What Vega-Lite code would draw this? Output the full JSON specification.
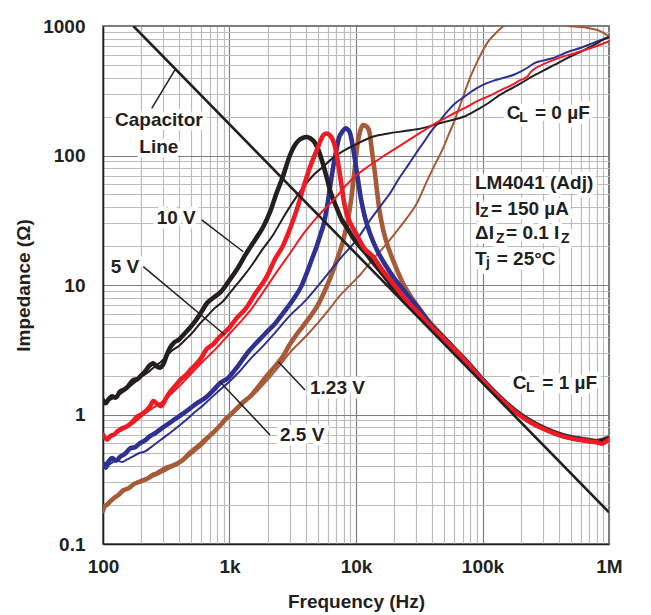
{
  "$schema": "https://vega.github.io/schema/vega-lite/v6.json",
  "autosize": {"type": "none"},
  "padding": {"left": 103, "top": 26, "right": 42, "bottom": 71},
  "width": 506,
  "height": 518,
  "background": "white",
  "config": {
    "view": {"stroke": "#4d4d4d", "strokeWidth": 1.5},
    "font": "Liberation Sans",
    "axis": {
      "labelFont": "Liberation Sans", "labelFontWeight": "bold", "labelFontSize": 19, "labelColor": "#231f20",
      "titleFont": "Liberation Sans", "titleFontWeight": "bold", "titleFontSize": 19, "titleColor": "#231f20",
      "domainColor": "#231f20", "domainWidth": 1.5, "ticks": false, "labelOverlap": false, "labelFlush": false
    }
  },
  "datasets": {
    "curves": [
      {"v":"1.23 V","c":"0","f":100,"z":0.18},{"v":"1.23 V","c":"0","f":105,"z":0.2},{"v":"1.23 V","c":"0","f":112,"z":0.21},{"v":"1.23 V","c":"0","f":120,"z":0.22},{"v":"1.23 V","c":"0","f":130,"z":0.235},{"v":"1.23 V","c":"0","f":145,"z":0.255},{"v":"1.23 V","c":"0","f":160,"z":0.27},{"v":"1.23 V","c":"0","f":180,"z":0.29},{"v":"1.23 V","c":"0","f":200,"z":0.3},{"v":"1.23 V","c":"0","f":230,"z":0.32},{"v":"1.23 V","c":"0","f":265,"z":0.34},{"v":"1.23 V","c":"0","f":300,"z":0.36},{"v":"1.23 V","c":"0","f":350,"z":0.39},{"v":"1.23 V","c":"0","f":432,"z":0.44},{"v":"1.23 V","c":"0","f":520,"z":0.51},{"v":"1.23 V","c":"0","f":620,"z":0.59},{"v":"1.23 V","c":"0","f":750,"z":0.72},{"v":"1.23 V","c":"0","f":912,"z":0.88},{"v":"1.23 V","c":"0","f":1100,"z":1.05},{"v":"1.23 V","c":"0","f":1300,"z":1.22},{"v":"1.23 V","c":"0","f":1660,"z":1.52},{"v":"1.23 V","c":"0","f":2000,"z":1.85},{"v":"1.23 V","c":"0","f":2500,"z":2.4},{"v":"1.23 V","c":"0","f":3000,"z":3.0},{"v":"1.23 V","c":"0","f":4000,"z":4.0},{"v":"1.23 V","c":"0","f":5000,"z":5.1},{"v":"1.23 V","c":"0","f":6000,"z":6.3},{"v":"1.23 V","c":"0","f":7400,"z":8.2},{"v":"1.23 V","c":"0","f":9000,"z":10},{"v":"1.23 V","c":"0","f":10800,"z":12},{"v":"1.23 V","c":"0","f":13500,"z":15.6},{"v":"1.23 V","c":"0","f":16500,"z":19.5},{"v":"1.23 V","c":"0","f":20000,"z":24.5},{"v":"1.23 V","c":"0","f":24600,"z":31.8},{"v":"1.23 V","c":"0","f":30000,"z":42},{"v":"1.23 V","c":"0","f":36000,"z":62},{"v":"1.23 V","c":"0","f":42000,"z":85},{"v":"1.23 V","c":"0","f":48000,"z":110},{"v":"1.23 V","c":"0","f":54000,"z":145},{"v":"1.23 V","c":"0","f":60000,"z":185},{"v":"1.23 V","c":"0","f":68000,"z":260},{"v":"1.23 V","c":"0","f":81000,"z":413},{"v":"1.23 V","c":"0","f":95000,"z":580},{"v":"1.23 V","c":"0","f":110000,"z":750},{"v":"1.23 V","c":"0","f":130000,"z":900},{"v":"1.23 V","c":"0","f":155000,"z":1050},{"v":"1.23 V","c":"0","f":200000,"z":1400},{"v":"1.23 V","c":"0","f":300000,"z":1700},{"v":"1.23 V","c":"0","f":400000,"z":1300},{"v":"1.23 V","c":"0","f":466000,"z":1000},{"v":"1.23 V","c":"0","f":560000,"z":985},{"v":"1.23 V","c":"0","f":668000,"z":970},{"v":"1.23 V","c":"0","f":760000,"z":945},{"v":"1.23 V","c":"0","f":851000,"z":914},{"v":"1.23 V","c":"0","f":930000,"z":870},{"v":"1.23 V","c":"0","f":1000000,"z":830},

      {"v":"1.23 V","c":"1","f":100,"z":0.18},{"v":"1.23 V","c":"1","f":103,"z":0.195},{"v":"1.23 V","c":"1","f":107,"z":0.2},{"v":"1.23 V","c":"1","f":112,"z":0.21},{"v":"1.23 V","c":"1","f":118,"z":0.22},{"v":"1.23 V","c":"1","f":125,"z":0.23},{"v":"1.23 V","c":"1","f":133,"z":0.24},{"v":"1.23 V","c":"1","f":145,"z":0.26},{"v":"1.23 V","c":"1","f":160,"z":0.27},{"v":"1.23 V","c":"1","f":175,"z":0.29},{"v":"1.23 V","c":"1","f":190,"z":0.3},{"v":"1.23 V","c":"1","f":205,"z":0.31},{"v":"1.23 V","c":"1","f":225,"z":0.32},{"v":"1.23 V","c":"1","f":245,"z":0.34},{"v":"1.23 V","c":"1","f":265,"z":0.35},{"v":"1.23 V","c":"1","f":290,"z":0.37},{"v":"1.23 V","c":"1","f":320,"z":0.39},{"v":"1.23 V","c":"1","f":350,"z":0.4},{"v":"1.23 V","c":"1","f":390,"z":0.42},{"v":"1.23 V","c":"1","f":432,"z":0.45},{"v":"1.23 V","c":"1","f":480,"z":0.5},{"v":"1.23 V","c":"1","f":540,"z":0.55},{"v":"1.23 V","c":"1","f":600,"z":0.6},{"v":"1.23 V","c":"1","f":680,"z":0.67},{"v":"1.23 V","c":"1","f":760,"z":0.74},{"v":"1.23 V","c":"1","f":850,"z":0.83},{"v":"1.23 V","c":"1","f":912,"z":0.9},{"v":"1.23 V","c":"1","f":1000,"z":0.98},{"v":"1.23 V","c":"1","f":1150,"z":1.12},{"v":"1.23 V","c":"1","f":1300,"z":1.26},{"v":"1.23 V","c":"1","f":1480,"z":1.4},{"v":"1.23 V","c":"1","f":1660,"z":1.6},{"v":"1.23 V","c":"1","f":1900,"z":1.9},{"v":"1.23 V","c":"1","f":2200,"z":2.25},{"v":"1.23 V","c":"1","f":2450,"z":2.55},{"v":"1.23 V","c":"1","f":2700,"z":2.9},{"v":"1.23 V","c":"1","f":2900,"z":3.3},{"v":"1.23 V","c":"1","f":3300,"z":4.0},{"v":"1.23 V","c":"1","f":3800,"z":4.8},{"v":"1.23 V","c":"1","f":4400,"z":5.8},{"v":"1.23 V","c":"1","f":4950,"z":6.9},{"v":"1.23 V","c":"1","f":5600,"z":8.8},{"v":"1.23 V","c":"1","f":6300,"z":11.5},{"v":"1.23 V","c":"1","f":7060,"z":15.6},{"v":"1.23 V","c":"1","f":7800,"z":21},{"v":"1.23 V","c":"1","f":8400,"z":28},{"v":"1.23 V","c":"1","f":8900,"z":38},{"v":"1.23 V","c":"1","f":9500,"z":61},{"v":"1.23 V","c":"1","f":9900,"z":90},{"v":"1.23 V","c":"1","f":10300,"z":124},{"v":"1.23 V","c":"1","f":10800,"z":155},{"v":"1.23 V","c":"1","f":11300,"z":172},{"v":"1.23 V","c":"1","f":11800,"z":170},{"v":"1.23 V","c":"1","f":12300,"z":165},{"v":"1.23 V","c":"1","f":12800,"z":150},{"v":"1.23 V","c":"1","f":13200,"z":120},{"v":"1.23 V","c":"1","f":13600,"z":95},{"v":"1.23 V","c":"1","f":14000,"z":78},{"v":"1.23 V","c":"1","f":14600,"z":55},{"v":"1.23 V","c":"1","f":15300,"z":38},{"v":"1.23 V","c":"1","f":16500,"z":26},{"v":"1.23 V","c":"1","f":18300,"z":18.6},{"v":"1.23 V","c":"1","f":20500,"z":14},{"v":"1.23 V","c":"1","f":23300,"z":10.5},{"v":"1.23 V","c":"1","f":27000,"z":8.2},{"v":"1.23 V","c":"1","f":31600,"z":6.6},{"v":"1.23 V","c":"1","f":38000,"z":5.2},{"v":"1.23 V","c":"1","f":46000,"z":4.25},{"v":"1.23 V","c":"1","f":60000,"z":3.22},{"v":"1.23 V","c":"1","f":75000,"z":2.57},{"v":"1.23 V","c":"1","f":100000,"z":1.86},{"v":"1.23 V","c":"1","f":130000,"z":1.43},{"v":"1.23 V","c":"1","f":177000,"z":1.09},{"v":"1.23 V","c":"1","f":230000,"z":0.91},{"v":"1.23 V","c":"1","f":290000,"z":0.81},{"v":"1.23 V","c":"1","f":370000,"z":0.73},{"v":"1.23 V","c":"1","f":440000,"z":0.69},{"v":"1.23 V","c":"1","f":520000,"z":0.665},{"v":"1.23 V","c":"1","f":600000,"z":0.65},{"v":"1.23 V","c":"1","f":700000,"z":0.635},{"v":"1.23 V","c":"1","f":800000,"z":0.625},{"v":"1.23 V","c":"1","f":900000,"z":0.64},{"v":"1.23 V","c":"1","f":1000000,"z":0.665},

      {"v":"2.5 V","c":"0","f":100,"z":0.4},{"v":"2.5 V","c":"0","f":106,"z":0.38},{"v":"2.5 V","c":"0","f":112,"z":0.41},{"v":"2.5 V","c":"0","f":120,"z":0.43},{"v":"2.5 V","c":"0","f":130,"z":0.44},{"v":"2.5 V","c":"0","f":142,"z":0.43},{"v":"2.5 V","c":"0","f":155,"z":0.45},{"v":"2.5 V","c":"0","f":170,"z":0.47},{"v":"2.5 V","c":"0","f":190,"z":0.5},{"v":"2.5 V","c":"0","f":215,"z":0.52},{"v":"2.5 V","c":"0","f":240,"z":0.56},{"v":"2.5 V","c":"0","f":270,"z":0.61},{"v":"2.5 V","c":"0","f":300,"z":0.66},{"v":"2.5 V","c":"0","f":350,"z":0.74},{"v":"2.5 V","c":"0","f":400,"z":0.82},{"v":"2.5 V","c":"0","f":460,"z":0.92},{"v":"2.5 V","c":"0","f":530,"z":1.04},{"v":"2.5 V","c":"0","f":620,"z":1.18},{"v":"2.5 V","c":"0","f":720,"z":1.35},{"v":"2.5 V","c":"0","f":842,"z":1.55},{"v":"2.5 V","c":"0","f":1000,"z":1.8},{"v":"2.5 V","c":"0","f":1200,"z":2.15},{"v":"2.5 V","c":"0","f":1470,"z":2.7},{"v":"2.5 V","c":"0","f":1800,"z":3.3},{"v":"2.5 V","c":"0","f":2200,"z":4.1},{"v":"2.5 V","c":"0","f":3000,"z":5.8},{"v":"2.5 V","c":"0","f":4000,"z":7.6},{"v":"2.5 V","c":"0","f":5500,"z":11},{"v":"2.5 V","c":"0","f":7500,"z":16},{"v":"2.5 V","c":"0","f":10000,"z":22},{"v":"2.5 V","c":"0","f":13000,"z":32},{"v":"2.5 V","c":"0","f":16000,"z":42},{"v":"2.5 V","c":"0","f":18300,"z":50},{"v":"2.5 V","c":"0","f":22000,"z":67},{"v":"2.5 V","c":"0","f":26000,"z":85},{"v":"2.5 V","c":"0","f":30000,"z":105},{"v":"2.5 V","c":"0","f":34000,"z":125},{"v":"2.5 V","c":"0","f":39000,"z":152},{"v":"2.5 V","c":"0","f":46000,"z":185},{"v":"2.5 V","c":"0","f":53000,"z":220},{"v":"2.5 V","c":"0","f":60000,"z":250},{"v":"2.5 V","c":"0","f":72000,"z":285},{"v":"2.5 V","c":"0","f":85000,"z":320},{"v":"2.5 V","c":"0","f":100000,"z":350},{"v":"2.5 V","c":"0","f":120000,"z":375},{"v":"2.5 V","c":"0","f":150000,"z":400},{"v":"2.5 V","c":"0","f":177000,"z":420},{"v":"2.5 V","c":"0","f":200000,"z":445},{"v":"2.5 V","c":"0","f":230000,"z":480},{"v":"2.5 V","c":"0","f":255000,"z":515},{"v":"2.5 V","c":"0","f":300000,"z":540},{"v":"2.5 V","c":"0","f":370000,"z":570},{"v":"2.5 V","c":"0","f":470000,"z":630},{"v":"2.5 V","c":"0","f":600000,"z":680},{"v":"2.5 V","c":"0","f":700000,"z":720},{"v":"2.5 V","c":"0","f":800000,"z":760},{"v":"2.5 V","c":"0","f":1000000,"z":820},

      {"v":"2.5 V","c":"1","f":100,"z":0.42},{"v":"2.5 V","c":"1","f":104,"z":0.4},{"v":"2.5 V","c":"1","f":110,"z":0.43},{"v":"2.5 V","c":"1","f":118,"z":0.46},{"v":"2.5 V","c":"1","f":127,"z":0.44},{"v":"2.5 V","c":"1","f":136,"z":0.47},{"v":"2.5 V","c":"1","f":150,"z":0.5},{"v":"2.5 V","c":"1","f":165,"z":0.55},{"v":"2.5 V","c":"1","f":180,"z":0.56},{"v":"2.5 V","c":"1","f":196,"z":0.6},{"v":"2.5 V","c":"1","f":215,"z":0.63},{"v":"2.5 V","c":"1","f":235,"z":0.68},{"v":"2.5 V","c":"1","f":260,"z":0.72},{"v":"2.5 V","c":"1","f":280,"z":0.76},{"v":"2.5 V","c":"1","f":300,"z":0.8},{"v":"2.5 V","c":"1","f":330,"z":0.85},{"v":"2.5 V","c":"1","f":370,"z":0.92},{"v":"2.5 V","c":"1","f":432,"z":1.02},{"v":"2.5 V","c":"1","f":480,"z":1.1},{"v":"2.5 V","c":"1","f":550,"z":1.22},{"v":"2.5 V","c":"1","f":660,"z":1.37},{"v":"2.5 V","c":"1","f":750,"z":1.55},{"v":"2.5 V","c":"1","f":842,"z":1.75},{"v":"2.5 V","c":"1","f":967,"z":1.9},{"v":"2.5 V","c":"1","f":1100,"z":2.2},{"v":"2.5 V","c":"1","f":1250,"z":2.6},{"v":"2.5 V","c":"1","f":1390,"z":3.0},{"v":"2.5 V","c":"1","f":1600,"z":3.5},{"v":"2.5 V","c":"1","f":1780,"z":3.9},{"v":"2.5 V","c":"1","f":2000,"z":4.4},{"v":"2.5 V","c":"1","f":2240,"z":4.9},{"v":"2.5 V","c":"1","f":2700,"z":6.2},{"v":"2.5 V","c":"1","f":3240,"z":7.9},{"v":"2.5 V","c":"1","f":3700,"z":9.8},{"v":"2.5 V","c":"1","f":4070,"z":12.3},{"v":"2.5 V","c":"1","f":4500,"z":16},{"v":"2.5 V","c":"1","f":4900,"z":20},{"v":"2.5 V","c":"1","f":5200,"z":24},{"v":"2.5 V","c":"1","f":5500,"z":28.5},{"v":"2.5 V","c":"1","f":5900,"z":40},{"v":"2.5 V","c":"1","f":6300,"z":61},{"v":"2.5 V","c":"1","f":6650,"z":85},{"v":"2.5 V","c":"1","f":7000,"z":110},{"v":"2.5 V","c":"1","f":7350,"z":138},{"v":"2.5 V","c":"1","f":7700,"z":150},{"v":"2.5 V","c":"1","f":8000,"z":158},{"v":"2.5 V","c":"1","f":8300,"z":162},{"v":"2.5 V","c":"1","f":8650,"z":158},{"v":"2.5 V","c":"1","f":8900,"z":152},{"v":"2.5 V","c":"1","f":9150,"z":138},{"v":"2.5 V","c":"1","f":9400,"z":120},{"v":"2.5 V","c":"1","f":9700,"z":100},{"v":"2.5 V","c":"1","f":10000,"z":82},{"v":"2.5 V","c":"1","f":10500,"z":60},{"v":"2.5 V","c":"1","f":11000,"z":45},{"v":"2.5 V","c":"1","f":11800,"z":33},{"v":"2.5 V","c":"1","f":12900,"z":25},{"v":"2.5 V","c":"1","f":14500,"z":19},{"v":"2.5 V","c":"1","f":17300,"z":14},{"v":"2.5 V","c":"1","f":20000,"z":11.3},{"v":"2.5 V","c":"1","f":23000,"z":9.5},{"v":"2.5 V","c":"1","f":26300,"z":8.1},{"v":"2.5 V","c":"1","f":31600,"z":6.5},{"v":"2.5 V","c":"1","f":38000,"z":5.1},{"v":"2.5 V","c":"1","f":46000,"z":4.2},{"v":"2.5 V","c":"1","f":60000,"z":3.21},{"v":"2.5 V","c":"1","f":75000,"z":2.56},{"v":"2.5 V","c":"1","f":100000,"z":1.86},{"v":"2.5 V","c":"1","f":130000,"z":1.43},{"v":"2.5 V","c":"1","f":177000,"z":1.09},{"v":"2.5 V","c":"1","f":230000,"z":0.91},{"v":"2.5 V","c":"1","f":290000,"z":0.8},{"v":"2.5 V","c":"1","f":370000,"z":0.725},{"v":"2.5 V","c":"1","f":440000,"z":0.685},{"v":"2.5 V","c":"1","f":520000,"z":0.66},{"v":"2.5 V","c":"1","f":600000,"z":0.645},{"v":"2.5 V","c":"1","f":700000,"z":0.63},{"v":"2.5 V","c":"1","f":800000,"z":0.615},{"v":"2.5 V","c":"1","f":900000,"z":0.63},{"v":"2.5 V","c":"1","f":1000000,"z":0.655},

      {"v":"10 V","c":"0","f":100,"z":1.25},{"v":"10 V","c":"0","f":108,"z":1.28},{"v":"10 V","c":"0","f":118,"z":1.32},{"v":"10 V","c":"0","f":130,"z":1.4},{"v":"10 V","c":"0","f":145,"z":1.5},{"v":"10 V","c":"0","f":160,"z":1.62},{"v":"10 V","c":"0","f":180,"z":1.78},{"v":"10 V","c":"0","f":200,"z":1.95},{"v":"10 V","c":"0","f":225,"z":2.1},{"v":"10 V","c":"0","f":250,"z":2.3},{"v":"10 V","c":"0","f":280,"z":2.5},{"v":"10 V","c":"0","f":310,"z":2.75},{"v":"10 V","c":"0","f":350,"z":3.1},{"v":"10 V","c":"0","f":400,"z":3.4},{"v":"10 V","c":"0","f":450,"z":3.8},{"v":"10 V","c":"0","f":500,"z":4.2},{"v":"10 V","c":"0","f":580,"z":5.0},{"v":"10 V","c":"0","f":660,"z":5.7},{"v":"10 V","c":"0","f":760,"z":6.6},{"v":"10 V","c":"0","f":850,"z":7.2},{"v":"10 V","c":"0","f":912,"z":7.7},{"v":"10 V","c":"0","f":1000,"z":8.6},{"v":"10 V","c":"0","f":1150,"z":10.2},{"v":"10 V","c":"0","f":1300,"z":11.8},{"v":"10 V","c":"0","f":1500,"z":14.2},{"v":"10 V","c":"0","f":1800,"z":18.5},{"v":"10 V","c":"0","f":2190,"z":24},{"v":"10 V","c":"0","f":2700,"z":34},{"v":"10 V","c":"0","f":3240,"z":45},{"v":"10 V","c":"0","f":4000,"z":60},{"v":"10 V","c":"0","f":4700,"z":72},{"v":"10 V","c":"0","f":5500,"z":82},{"v":"10 V","c":"0","f":6500,"z":95},{"v":"10 V","c":"0","f":7900,"z":108},{"v":"10 V","c":"0","f":10000,"z":122},{"v":"10 V","c":"0","f":13700,"z":140},{"v":"10 V","c":"0","f":18000,"z":148},{"v":"10 V","c":"0","f":25000,"z":155},{"v":"10 V","c":"0","f":33000,"z":162},{"v":"10 V","c":"0","f":43700,"z":175},{"v":"10 V","c":"0","f":55000,"z":186},{"v":"10 V","c":"0","f":71600,"z":200},{"v":"10 V","c":"0","f":90000,"z":225},{"v":"10 V","c":"0","f":110000,"z":252},{"v":"10 V","c":"0","f":131000,"z":285},{"v":"10 V","c":"0","f":160000,"z":320},{"v":"10 V","c":"0","f":200000,"z":360},{"v":"10 V","c":"0","f":250000,"z":410},{"v":"10 V","c":"0","f":300000,"z":450},{"v":"10 V","c":"0","f":369000,"z":500},{"v":"10 V","c":"0","f":450000,"z":555},{"v":"10 V","c":"0","f":530000,"z":600},{"v":"10 V","c":"0","f":603000,"z":635},{"v":"10 V","c":"0","f":700000,"z":685},{"v":"10 V","c":"0","f":800000,"z":735},{"v":"10 V","c":"0","f":900000,"z":785},{"v":"10 V","c":"0","f":1000000,"z":825},

      {"v":"10 V","c":"1","f":100,"z":1.29},{"v":"10 V","c":"1","f":105,"z":1.22},{"v":"10 V","c":"1","f":110,"z":1.3},{"v":"10 V","c":"1","f":118,"z":1.38},{"v":"10 V","c":"1","f":126,"z":1.35},{"v":"10 V","c":"1","f":136,"z":1.5},{"v":"10 V","c":"1","f":145,"z":1.55},{"v":"10 V","c":"1","f":155,"z":1.62},{"v":"10 V","c":"1","f":165,"z":1.75},{"v":"10 V","c":"1","f":175,"z":1.85},{"v":"10 V","c":"1","f":188,"z":1.88},{"v":"10 V","c":"1","f":200,"z":2.0},{"v":"10 V","c":"1","f":215,"z":2.15},{"v":"10 V","c":"1","f":230,"z":2.35},{"v":"10 V","c":"1","f":250,"z":2.48},{"v":"10 V","c":"1","f":265,"z":2.35},{"v":"10 V","c":"1","f":280,"z":2.3},{"v":"10 V","c":"1","f":300,"z":2.45},{"v":"10 V","c":"1","f":320,"z":2.9},{"v":"10 V","c":"1","f":340,"z":3.3},{"v":"10 V","c":"1","f":360,"z":3.55},{"v":"10 V","c":"1","f":400,"z":3.8},{"v":"10 V","c":"1","f":440,"z":4.2},{"v":"10 V","c":"1","f":488,"z":4.7},{"v":"10 V","c":"1","f":540,"z":5.3},{"v":"10 V","c":"1","f":600,"z":6.2},{"v":"10 V","c":"1","f":660,"z":7.2},{"v":"10 V","c":"1","f":750,"z":8.0},{"v":"10 V","c":"1","f":850,"z":8.8},{"v":"10 V","c":"1","f":1000,"z":10.9},{"v":"10 V","c":"1","f":1150,"z":13.3},{"v":"10 V","c":"1","f":1350,"z":17.4},{"v":"10 V","c":"1","f":1600,"z":22.5},{"v":"10 V","c":"1","f":1850,"z":28.2},{"v":"10 V","c":"1","f":2100,"z":37},{"v":"10 V","c":"1","f":2350,"z":51},{"v":"10 V","c":"1","f":2640,"z":68.6},{"v":"10 V","c":"1","f":3000,"z":100},{"v":"10 V","c":"1","f":3250,"z":118},{"v":"10 V","c":"1","f":3500,"z":130},{"v":"10 V","c":"1","f":3800,"z":137},{"v":"10 V","c":"1","f":4070,"z":139},{"v":"10 V","c":"1","f":4350,"z":136},{"v":"10 V","c":"1","f":4600,"z":130},{"v":"10 V","c":"1","f":4900,"z":118},{"v":"10 V","c":"1","f":5200,"z":102},{"v":"10 V","c":"1","f":5500,"z":85},{"v":"10 V","c":"1","f":5860,"z":68},{"v":"10 V","c":"1","f":6300,"z":52},{"v":"10 V","c":"1","f":7000,"z":40},{"v":"10 V","c":"1","f":7700,"z":32},{"v":"10 V","c":"1","f":8400,"z":28},{"v":"10 V","c":"1","f":10000,"z":21.5},{"v":"10 V","c":"1","f":12000,"z":17.5},{"v":"10 V","c":"1","f":14000,"z":14.5},{"v":"10 V","c":"1","f":16200,"z":12.2},{"v":"10 V","c":"1","f":20000,"z":9.4},{"v":"10 V","c":"1","f":25000,"z":7.4},{"v":"10 V","c":"1","f":30000,"z":6.1},{"v":"10 V","c":"1","f":38000,"z":4.9},{"v":"10 V","c":"1","f":46000,"z":4.15},{"v":"10 V","c":"1","f":60000,"z":3.2},{"v":"10 V","c":"1","f":75000,"z":2.55},{"v":"10 V","c":"1","f":100000,"z":1.85},{"v":"10 V","c":"1","f":130000,"z":1.42},{"v":"10 V","c":"1","f":177000,"z":1.08},{"v":"10 V","c":"1","f":230000,"z":0.9},{"v":"10 V","c":"1","f":290000,"z":0.8},{"v":"10 V","c":"1","f":370000,"z":0.72},{"v":"10 V","c":"1","f":440000,"z":0.68},{"v":"10 V","c":"1","f":520000,"z":0.655},{"v":"10 V","c":"1","f":600000,"z":0.64},{"v":"10 V","c":"1","f":700000,"z":0.625},{"v":"10 V","c":"1","f":800000,"z":0.615},{"v":"10 V","c":"1","f":900000,"z":0.63},{"v":"10 V","c":"1","f":1000000,"z":0.65},

      {"v":"5 V","c":"0","f":100,"z":0.68},{"v":"5 V","c":"0","f":106,"z":0.66},{"v":"5 V","c":"0","f":112,"z":0.67},{"v":"5 V","c":"0","f":120,"z":0.69},{"v":"5 V","c":"0","f":135,"z":0.74},{"v":"5 V","c":"0","f":151,"z":0.78},{"v":"5 V","c":"0","f":170,"z":0.84},{"v":"5 V","c":"0","f":190,"z":0.92},{"v":"5 V","c":"0","f":210,"z":1.0},{"v":"5 V","c":"0","f":240,"z":1.1},{"v":"5 V","c":"0","f":270,"z":1.18},{"v":"5 V","c":"0","f":300,"z":1.27},{"v":"5 V","c":"0","f":340,"z":1.42},{"v":"5 V","c":"0","f":400,"z":1.65},{"v":"5 V","c":"0","f":460,"z":1.9},{"v":"5 V","c":"0","f":530,"z":2.2},{"v":"5 V","c":"0","f":600,"z":2.5},{"v":"5 V","c":"0","f":700,"z":2.9},{"v":"5 V","c":"0","f":800,"z":3.3},{"v":"5 V","c":"0","f":900,"z":3.75},{"v":"5 V","c":"0","f":1000,"z":4.2},{"v":"5 V","c":"0","f":1200,"z":5.1},{"v":"5 V","c":"0","f":1450,"z":6.3},{"v":"5 V","c":"0","f":1800,"z":8.5},{"v":"5 V","c":"0","f":2390,"z":12.8},{"v":"5 V","c":"0","f":3000,"z":17.5},{"v":"5 V","c":"0","f":3860,"z":25},{"v":"5 V","c":"0","f":5000,"z":34},{"v":"5 V","c":"0","f":6600,"z":45},{"v":"5 V","c":"0","f":8500,"z":60},{"v":"5 V","c":"0","f":10000,"z":70},{"v":"5 V","c":"0","f":12900,"z":84},{"v":"5 V","c":"0","f":16000,"z":97},{"v":"5 V","c":"0","f":19600,"z":110},{"v":"5 V","c":"0","f":25000,"z":128},{"v":"5 V","c":"0","f":31600,"z":148},{"v":"5 V","c":"0","f":37000,"z":163},{"v":"5 V","c":"0","f":43700,"z":180},{"v":"5 V","c":"0","f":52000,"z":197},{"v":"5 V","c":"0","f":59600,"z":212},{"v":"5 V","c":"0","f":72000,"z":232},{"v":"5 V","c":"0","f":90000,"z":262},{"v":"5 V","c":"0","f":110000,"z":285},{"v":"5 V","c":"0","f":140000,"z":320},{"v":"5 V","c":"0","f":170000,"z":350},{"v":"5 V","c":"0","f":200000,"z":383},{"v":"5 V","c":"0","f":225000,"z":405},{"v":"5 V","c":"0","f":240000,"z":440},{"v":"5 V","c":"0","f":260000,"z":470},{"v":"5 V","c":"0","f":300000,"z":505},{"v":"5 V","c":"0","f":370000,"z":550},{"v":"5 V","c":"0","f":450000,"z":588},{"v":"5 V","c":"0","f":500000,"z":603},{"v":"5 V","c":"0","f":600000,"z":640},{"v":"5 V","c":"0","f":700000,"z":670},{"v":"5 V","c":"0","f":860000,"z":720},{"v":"5 V","c":"0","f":1000000,"z":765},

      {"v":"5 V","c":"1","f":100,"z":0.7},{"v":"5 V","c":"1","f":104,"z":0.66},{"v":"5 V","c":"1","f":108,"z":0.64},{"v":"5 V","c":"1","f":114,"z":0.68},{"v":"5 V","c":"1","f":122,"z":0.7},{"v":"5 V","c":"1","f":130,"z":0.74},{"v":"5 V","c":"1","f":140,"z":0.78},{"v":"5 V","c":"1","f":151,"z":0.8},{"v":"5 V","c":"1","f":165,"z":0.85},{"v":"5 V","c":"1","f":175,"z":0.9},{"v":"5 V","c":"1","f":185,"z":0.96},{"v":"5 V","c":"1","f":200,"z":1.0},{"v":"5 V","c":"1","f":215,"z":1.05},{"v":"5 V","c":"1","f":235,"z":1.15},{"v":"5 V","c":"1","f":250,"z":1.27},{"v":"5 V","c":"1","f":265,"z":1.22},{"v":"5 V","c":"1","f":289,"z":1.16},{"v":"5 V","c":"1","f":310,"z":1.3},{"v":"5 V","c":"1","f":340,"z":1.5},{"v":"5 V","c":"1","f":370,"z":1.65},{"v":"5 V","c":"1","f":408,"z":1.85},{"v":"5 V","c":"1","f":450,"z":2.0},{"v":"5 V","c":"1","f":500,"z":2.25},{"v":"5 V","c":"1","f":585,"z":2.65},{"v":"5 V","c":"1","f":660,"z":3.2},{"v":"5 V","c":"1","f":746,"z":3.5},{"v":"5 V","c":"1","f":820,"z":3.9},{"v":"5 V","c":"1","f":900,"z":4.25},{"v":"5 V","c":"1","f":1000,"z":4.7},{"v":"5 V","c":"1","f":1150,"z":5.6},{"v":"5 V","c":"1","f":1350,"z":6.6},{"v":"5 V","c":"1","f":1600,"z":8.6},{"v":"5 V","c":"1","f":1970,"z":11.6},{"v":"5 V","c":"1","f":2300,"z":16},{"v":"5 V","c":"1","f":2640,"z":20},{"v":"5 V","c":"1","f":3000,"z":27},{"v":"5 V","c":"1","f":3400,"z":38},{"v":"5 V","c":"1","f":3700,"z":50},{"v":"5 V","c":"1","f":4070,"z":68},{"v":"5 V","c":"1","f":4500,"z":90},{"v":"5 V","c":"1","f":4900,"z":110},{"v":"5 V","c":"1","f":5200,"z":128},{"v":"5 V","c":"1","f":5500,"z":143},{"v":"5 V","c":"1","f":5800,"z":148},{"v":"5 V","c":"1","f":6100,"z":146},{"v":"5 V","c":"1","f":6400,"z":138},{"v":"5 V","c":"1","f":6700,"z":125},{"v":"5 V","c":"1","f":7000,"z":104},{"v":"5 V","c":"1","f":7350,"z":78},{"v":"5 V","c":"1","f":7700,"z":58},{"v":"5 V","c":"1","f":8000,"z":45},{"v":"5 V","c":"1","f":8400,"z":36},{"v":"5 V","c":"1","f":9200,"z":29},{"v":"5 V","c":"1","f":10000,"z":25},{"v":"5 V","c":"1","f":11500,"z":19.5},{"v":"5 V","c":"1","f":13700,"z":16.5},{"v":"5 V","c":"1","f":16000,"z":13.2},{"v":"5 V","c":"1","f":18300,"z":11.2},{"v":"5 V","c":"1","f":22000,"z":8.9},{"v":"5 V","c":"1","f":25000,"z":7.6},{"v":"5 V","c":"1","f":31600,"z":6.0},{"v":"5 V","c":"1","f":38000,"z":4.9},{"v":"5 V","c":"1","f":46000,"z":4.12},{"v":"5 V","c":"1","f":60000,"z":3.18},{"v":"5 V","c":"1","f":75000,"z":2.53},{"v":"5 V","c":"1","f":100000,"z":1.84},{"v":"5 V","c":"1","f":130000,"z":1.41},{"v":"5 V","c":"1","f":177000,"z":1.07},{"v":"5 V","c":"1","f":230000,"z":0.89},{"v":"5 V","c":"1","f":290000,"z":0.79},{"v":"5 V","c":"1","f":370000,"z":0.715},{"v":"5 V","c":"1","f":440000,"z":0.675},{"v":"5 V","c":"1","f":520000,"z":0.65},{"v":"5 V","c":"1","f":600000,"z":0.635},{"v":"5 V","c":"1","f":700000,"z":0.62},{"v":"5 V","c":"1","f":800000,"z":0.61},{"v":"5 V","c":"1","f":880000,"z":0.595},{"v":"5 V","c":"1","f":950000,"z":0.62},{"v":"5 V","c":"1","f":1000000,"z":0.64}
    ],
    "capline": [{"f": 173.6, "z": 1000}, {"f": 1000000, "z": 0.1757}],
    "leaders": [
      {"f1": 242.6, "z1": 231.5, "f2": 370.7, "z2": 457.5},
      {"f1": 602.6, "z1": 31.8, "f2": 1285, "z2": 18.07},
      {"f1": 208.2, "z1": 13.85, "f2": 921, "z2": 4.11},
      {"f1": 3954, "z1": 1.546, "f2": 2432, "z2": 2.557},
      {"f1": 2089, "z1": 0.6947, "f2": 841.5, "z2": 1.792}
    ],
    "notes": [
      {"t": "Capacitor", "k": "main", "f": 124.4, "z": 188.0},
      {"t": "Line", "k": "main", "f": 193.6, "z": 116.3},
      {"t": "10 V", "k": "main", "f": 265.8, "z": 32.74},
      {"t": "5 V", "k": "main", "f": 115.1, "z": 13.85},
      {"t": "1.23 V", "k": "main", "f": 4329, "z": 1.594},
      {"t": "2.5 V", "k": "main", "f": 2507, "z": 0.6947},
      {"t": "C", "k": "main", "f": 155400, "z": 214.1},
      {"t": "L", "k": "sub", "f": 195400, "z": 193.8},
      {"t": "= 0 µF", "k": "main", "f": 260000, "z": 214.1},
      {"t": "C", "k": "main", "f": 173300, "z": 1.741},
      {"t": "L", "k": "sub", "f": 220800, "z": 1.594},
      {"t": "= 1 µF", "k": "main", "f": 296900, "z": 1.741},
      {"t": "LM4041 (Adj)", "k": "main", "f": 87250, "z": 61.66},
      {"t": "I", "k": "main", "f": 87250, "z": 38.84},
      {"t": "Z", "k": "sub", "f": 95500, "z": 35.79},
      {"t": "= 150 µA", "k": "main", "f": 116700, "z": 38.84},
      {"t": "ΔI", "k": "main", "f": 87250, "z": 25.07},
      {"t": "Z", "k": "sub", "f": 127900, "z": 22.54},
      {"t": "= 0.1 I", "k": "main", "f": 153400, "z": 25.07},
      {"t": "Z", "k": "sub", "f": 417500, "z": 22.54},
      {"t": "T", "k": "main", "f": 87250, "z": 15.79},
      {"t": "j", "k": "sub", "f": 106600, "z": 14.71},
      {"t": "= 25°C", "k": "main", "f": 129500, "z": 15.79}
    ]
  },
  "encoding": {
    "x": {
      "field": "f", "type": "quantitative",
      "scale": {"type": "log", "domain": [100, 1000000], "nice": false},
      "axis": {
        "title": "Frequency (Hz)", "titlePadding": 16, "labelPadding": 13,
        "values": [100,200,300,400,500,600,700,800,900,1000,2000,3000,4000,5000,6000,7000,8000,9000,10000,20000,30000,40000,50000,60000,70000,80000,90000,100000,200000,300000,400000,500000,600000,700000,800000,900000,1000000],
        "labelExpr": "abs(log(datum.value)/LN10 - round(log(datum.value)/LN10)) < 1e-6 ? format(datum.value, '~s') : ''",
        "gridColor": {"condition": {"test": "abs(log(datum.value)/LN10 - round(log(datum.value)/LN10)) < 1e-6", "value": "#7f7f7f"}, "value": "#bcbcbc"},
        "gridWidth": 1.2
      }
    },
    "y": {
      "field": "z", "type": "quantitative",
      "scale": {"type": "log", "domain": [0.1, 1000], "nice": false},
      "axis": {
        "title": "Impedance (Ω)", "titlePadding": 9, "labelPadding": 18,
        "values": [0.1,0.2,0.3,0.4,0.5,0.6,0.7,0.8,0.9,1,2,3,4,5,6,7,8,9,10,20,30,40,50,60,70,80,90,100,200,300,400,500,600,700,800,900,1000],
        "labelExpr": "abs(log(datum.value)/LN10 - round(log(datum.value)/LN10)) < 1e-6 ? format(datum.value, '~g') : ''",
        "gridColor": {"condition": {"test": "abs(log(datum.value)/LN10 - round(log(datum.value)/LN10)) < 1e-6", "value": "#7f7f7f"}, "value": "#bcbcbc"},
        "gridWidth": 1.2
      }
    }
  },
  "layer": [
    {
      "data": {"name": "notes"},
      "mark": {"type": "text", "align": "left", "baseline": "middle", "font": "Liberation Sans", "fontWeight": "bold", "stroke": "white", "strokeWidth": 9, "strokeJoin": "round", "fill": "white"},
      "encoding": {
        "text": {"field": "t"},
        "size": {"field": "k", "type": "ordinal", "scale": {"domain": ["main", "sub"], "range": [19, 14]}, "legend": null}
      }
    },
    {
      "data": {"name": "curves"},
      "mark": {"type": "line", "interpolate": "monotone", "clip": true, "strokeCap": "round", "strokeJoin": "round"},
      "encoding": {
        "color": {"field": "v", "type": "nominal", "scale": {"domain": ["1.23 V", "2.5 V", "10 V", "5 V"], "range": ["#a65a38", "#2e3192", "#231f20", "#ed1c24"]}, "legend": null},
        "strokeWidth": {"field": "c", "type": "ordinal", "scale": {"domain": ["0", "1"], "range": [2, 4.6]}, "legend": null}
      }
    },
    {
      "data": {"name": "capline"},
      "mark": {"type": "line", "color": "#231f20", "strokeWidth": 2.6, "clip": true},
      "encoding": {}
    },
    {
      "data": {"name": "leaders"},
      "mark": {"type": "rule", "color": "#231f20", "strokeWidth": 1.5},
      "encoding": {
        "x": {"field": "f1", "type": "quantitative"},
        "x2": {"field": "f2"},
        "y": {"field": "z1", "type": "quantitative"},
        "y2": {"field": "z2"}
      }
    },
    {
      "data": {"name": "notes"},
      "mark": {"type": "text", "align": "left", "baseline": "middle", "font": "Liberation Sans", "fontWeight": "bold", "fill": "#231f20"},
      "encoding": {
        "text": {"field": "t"},
        "size": {"field": "k", "type": "ordinal", "scale": {"domain": ["main", "sub"], "range": [19, 14]}, "legend": null}
      }
    }
  ]
}
